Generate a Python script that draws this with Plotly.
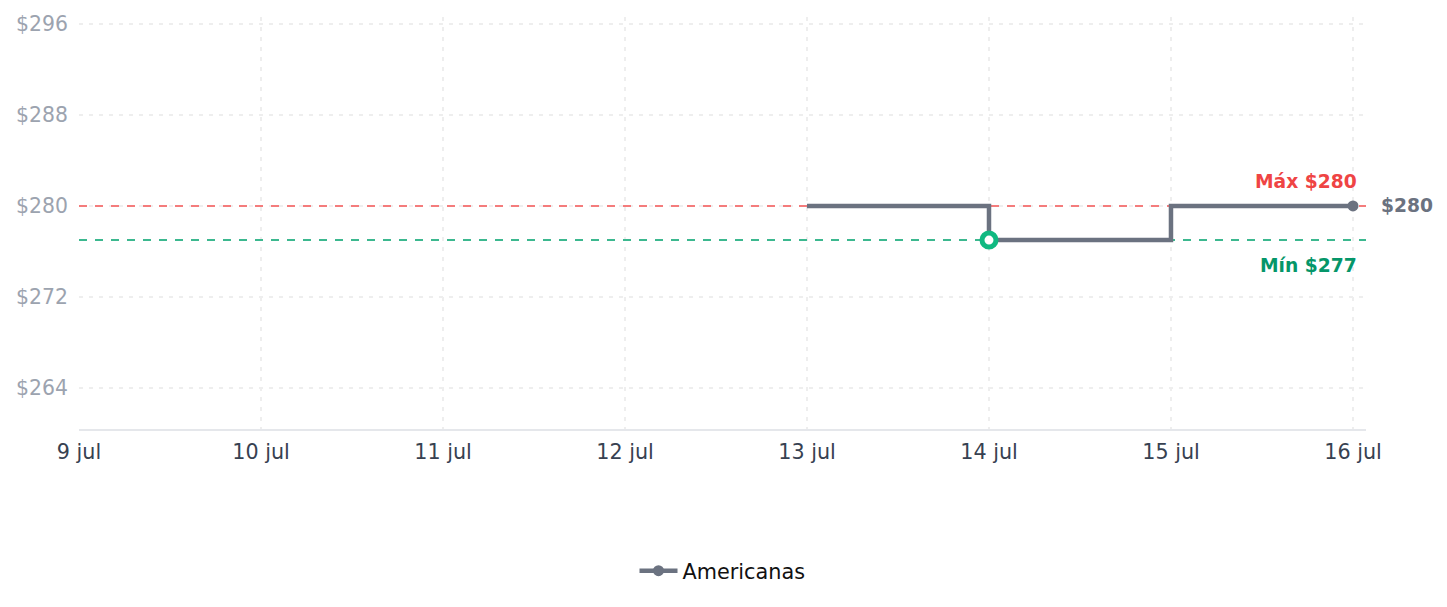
import plotly.graph_objects as go

# Data
dates = ["2025-07-13", "2025-07-14", "2025-07-15", "2025-07-16"]
prices = [280, 277, 280, 280]
series_name = "Americanas"
max_price = 280
min_price = 277
min_date = "2025-07-14"
tick_dates = ["2025-07-09", "2025-07-10", "2025-07-11", "2025-07-12",
              "2025-07-13", "2025-07-14", "2025-07-15", "2025-07-16"]
tick_labels = ["9 jul", "10 jul", "11 jul", "12 jul", "13 jul", "14 jul", "15 jul", "16 jul"]
y_ticks = [264, 272, 280, 288, 296]
y_tick_labels = ["$264", "$272", "$280", "$288", "$296"]
x_range = ["2025-07-09", "2025-07-16 01:43"]
y_range = [260.4, 296.6]

FONT = "DejaVu Sans"
GRAY = "#6b7280"

fig = go.Figure()

# reference lines (max / min) drawn as traces so they sit above the grid
fig.add_trace(go.Scatter(
    x=x_range, y=[min_price, min_price], mode="lines", showlegend=False, hoverinfo="skip",
    line=dict(color="#3cb88f", width=2, dash="8px,8px")))
fig.add_trace(go.Scatter(
    x=x_range, y=[max_price, max_price], mode="lines", showlegend=False, hoverinfo="skip",
    line=dict(color="#f47c7c", width=2, dash="8px,8px")))

fig.add_trace(go.Scatter(
    x=dates, y=prices, mode="lines", line=dict(color=GRAY, width=4.5, shape="hv"),
    name=series_name, showlegend=False, hoverinfo="skip"))

# end marker + legend entry
fig.add_trace(go.Scatter(
    x=[dates[-1]], y=[prices[-1]], mode="lines+markers", name=series_name,
    line=dict(color=GRAY, width=4.5), marker=dict(color=GRAY, size=11),
    showlegend=True))

# min marker
fig.add_trace(go.Scatter(
    x=[min_date], y=[min_price], mode="markers", showlegend=False,
    marker=dict(color="white", size=14, line=dict(color="#10b981", width=5))))

fig.add_annotation(xref="paper", x=1, y=max_price, text=f"<b>Máx ${max_price}</b>",
                   showarrow=False, xanchor="right", yanchor="middle", xshift=-7, yshift=24,
                   font=dict(family=FONT, size=18.7, color="#ef4444"))
fig.add_annotation(xref="paper", x=1, y=min_price, text=f"<b>Mín ${min_price}</b>",
                   showarrow=False, xanchor="right", yanchor="middle", xshift=-7, yshift=-25,
                   font=dict(family=FONT, size=18.7, color="#059669"))
fig.add_annotation(x=dates[-1], y=prices[-1], text=f"<b>${prices[-1]}</b>",
                   showarrow=False, xanchor="left", yanchor="middle", xshift=26,
                   font=dict(family=FONT, size=18.7, color=GRAY))

fig.update_layout(
    width=1447, height=607,
    margin=dict(l=79, r=81, t=15, b=178),
    paper_bgcolor="white", plot_bgcolor="white",
    font=dict(family=FONT),
    legend=dict(orientation="h", x=0.5, xanchor="center", y=-0.345, yanchor="middle",
                itemwidth=38,
                font=dict(family=FONT, size=20.8, color="#111111")),
    xaxis=dict(type="date", range=x_range,
               tickvals=tick_dates, ticktext=tick_labels,
               tickfont=dict(family=FONT, size=20.7, color="#374151"),
               showgrid=True, gridcolor="#eeeeee", griddash="4px,6px", gridwidth=2,
               showline=True, linecolor="#e5e7eb", linewidth=2, ticks="", zeroline=False,
               ticklabelstandoff=3),
    yaxis=dict(range=y_range, tickvals=y_ticks, ticktext=y_tick_labels,
               tickfont=dict(family=FONT, size=20.4, color="#9ca3af"),
               showgrid=True, gridcolor="#eeeeee", griddash="4px,6px", gridwidth=2,
               showline=False, zeroline=False, ticks="", ticklabelstandoff=10),
)

fig.write_html("out.html")
